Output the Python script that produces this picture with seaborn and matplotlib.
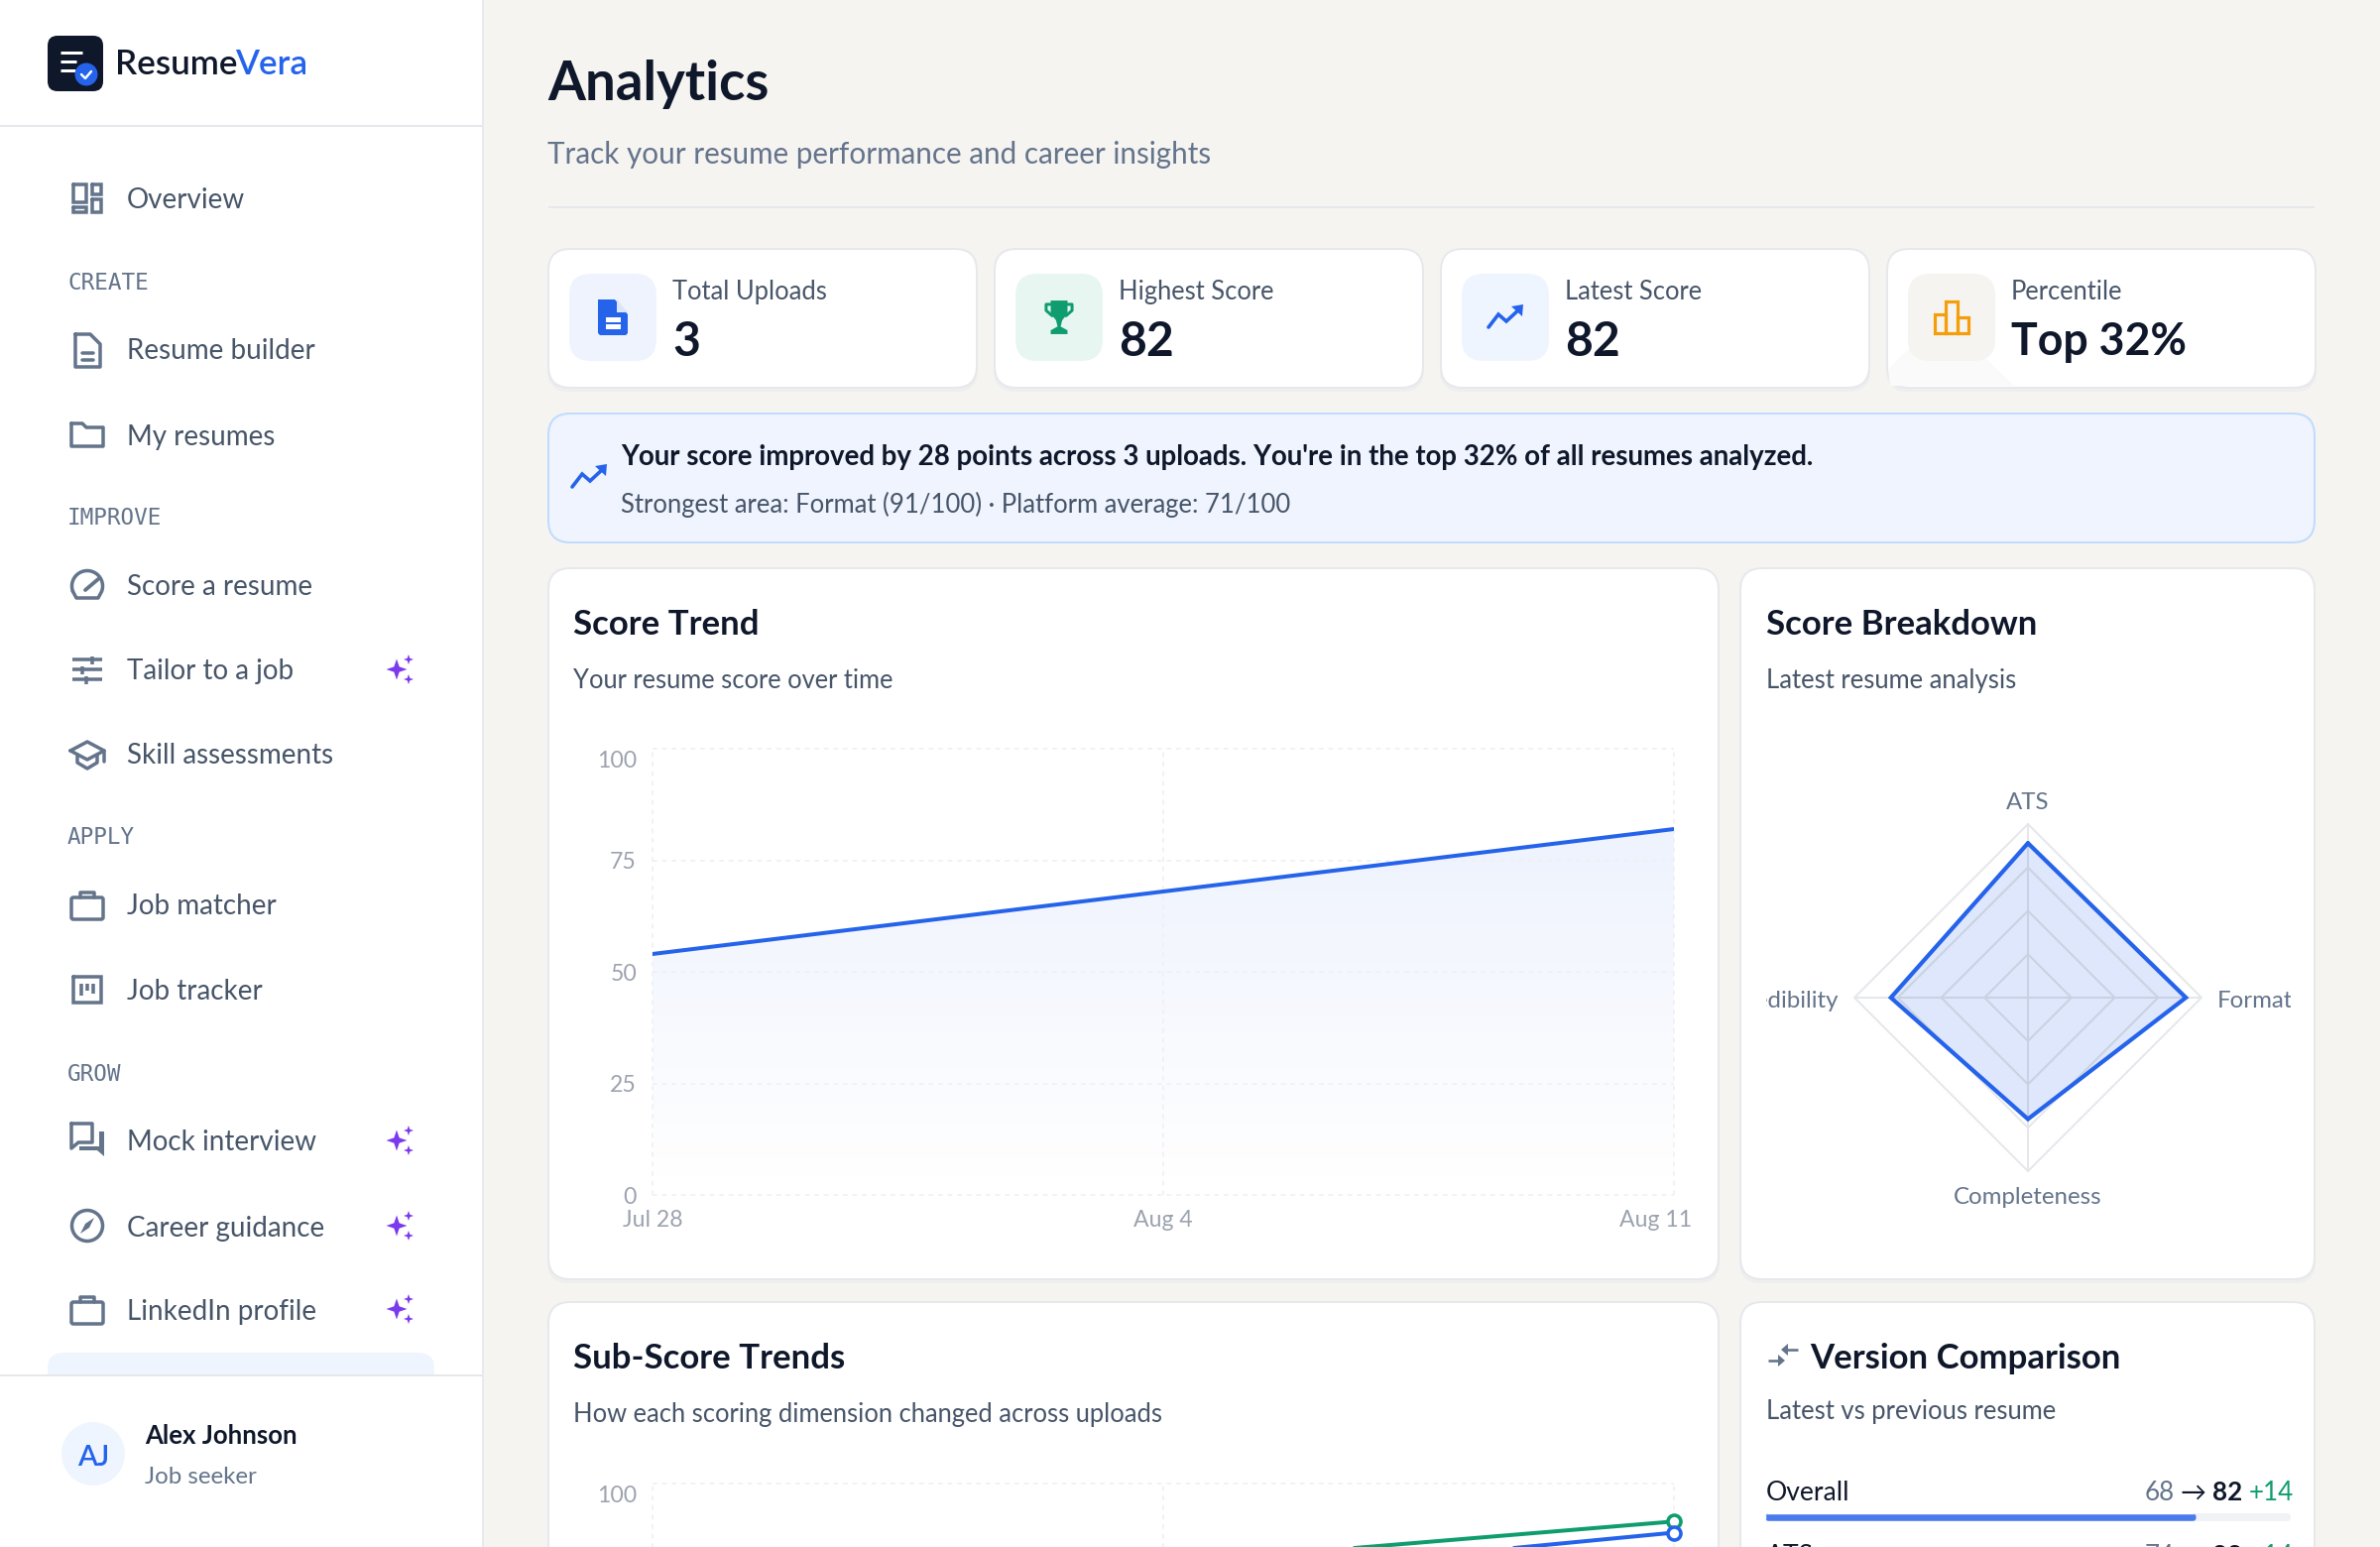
import numpy as np
import matplotlib
matplotlib.use("Agg")
import matplotlib.pyplot as plt
import seaborn as sns
from matplotlib.patches import FancyBboxPatch, Polygon, Circle, Rectangle
from matplotlib.transforms import ScaledTranslation

# data
trend_dates = ["Jul 28", "Aug 4", "Aug 11"]
trend_scores = [54, 68, 82]
trend_ticks = [0, 25, 50, 75, 100]

radar_labels = ["ATS", "Format", "Completeness", "Credibility"]
radar_values = [89, 91, 70, 79]
radar_rings = [25, 50, 75, 100]

sub_format = [64, 82, 91.5]
sub_ats = [58, 78, 89]

stat_labels = ["Total Uploads", "Highest Score", "Latest Score", "Percentile"]
stat_values = ["3", "82", "82", "Top 32%"]

overall_prev = 68
overall_new = 82
ats_prev = 74
ats_new = 88

nav_items = [("Overview", 200), ("Resume builder", 352), ("My resumes", 438), ("Score a resume", 590),
             ("Tailor to a job", 675), ("Skill assessments", 760), ("Job matcher", 912), ("Job tracker", 998),
             ("Mock interview", 1150), ("Career guidance", 1236), ("LinkedIn profile", 1320)]
nav_sections = [("CREATE", 283), ("IMPROVE", 520), ("APPLY", 842), ("GROW", 1081)]
sparkle_rows = [675, 1150, 1236, 1320]

INK = "#0f172a"
BODY = "#475569"
ICON = "#64748b"
BLUE = "#2563eb"
GREEN = "#0f9d6f"
LINE = "#e5e7eb"
GRID = "#eff0f3"
TICK = "#9ca3af"

sns.set_theme(style="white")
plt.rcParams["font.family"] = ["Lato", "DejaVu Sans"]
plt.rcParams["axes.unicode_minus"] = False

W, H = 2400, 1560
fig = plt.figure(figsize=(W / 100, H / 100), dpi=100, facecolor="#f5f4f1")

# one axes in pixel coordinates for the page furniture
bg = fig.add_axes([0, 0, 1, 1], zorder=0)
bg.set_xlim(0, W)
bg.set_ylim(H, 0)
bg.axis("off")


def pt(n):
    return n * 0.72


def box(x0, y0, x1, y1, r, fc, ec="none", lw=0, z=2):
    p = FancyBboxPatch((x0, y0), x1 - x0, y1 - y0, boxstyle=f"round,pad=0,rounding_size={r}",
                       fc=fc, ec=ec, lw=pt(lw), zorder=z)
    bg.add_patch(p)
    return p


def ln(pts, color=ICON, lw=3.5, z=4, cap="round", join="round"):
    xs, ys = zip(*pts)
    bg.plot(xs, ys, color=color, lw=pt(lw), zorder=z, solid_capstyle=cap, solid_joinstyle=join)


def fill(pts, color=ICON, z=4):
    bg.add_patch(Polygon(pts, closed=True, fc=color, ec="none", zorder=z))


def txt(x, y, s, size, color=INK, weight="normal", ha="left", va="center_baseline", **kw):
    return bg.text(x, y, s, fontsize=pt(size), color=color, fontweight=weight, ha=ha, va=va, zorder=6, **kw)


def card(x0, y0, x1, y1, r=22):
    box(x0 - 1, y0 + 2, x1 + 1, y1 + 4, r, "#eeeeee", z=1)
    box(x0, y0, x1, y1, r, "white", ec="#e6e8ec", lw=2, z=2)


def shifted(pts, cx, cy, k=1):
    return [(cx + a * k, cy + b * k) for a, b in pts]


def sparkle(cx, cy):
    def star(x, y, r):
        a = np.arange(8) * np.pi / 4
        rr = np.where(np.arange(8) % 2 == 0, r, r * 0.36)
        return list(zip(x + rr * np.sin(a), y + rr * np.cos(a)))
    fill(star(cx - 3, cy, 10.5), "#7c3aed")
    fill(star(cx + 9, cy - 10, 5), "#7c3aed")
    fill(star(cx + 9, cy + 10, 5), "#7c3aed")


def trend_icon(cx, cy, color=BLUE, lw=3.6):
    ln(shifted([(-17, 10), (-7, -3), (1, 4), (15, -9)], cx, cy), color, lw, join="miter")
    fill(shifted([(6, -11), (18, -13), (17, -1)], cx, cy), color)


# sidebar
bg.add_patch(Rectangle((0, 0), 486, H, fc="white", ec="none", zorder=1))
bg.add_patch(Rectangle((486, 0), 2, H, fc="#e8e9ed", ec="none", zorder=1))
bg.add_patch(Rectangle((0, 126), 486, 2, fc=LINE, ec="none", zorder=3))
box(48, 1364, 438, 1400, 16, "#eff5fe", z=2)
bg.add_patch(Rectangle((0, 1387), 486, H - 1387, fc="white", ec="none", zorder=3))
bg.add_patch(Rectangle((0, 1386), 486, 2, fc=LINE, ec="none", zorder=3))

# logo
box(48, 36, 104, 92, 10, "#0f172a", z=3)
ln([(61, 53), (83, 53)], "white", 3, cap="butt")
ln([(61, 62), (77, 62)], "white", 3, cap="butt")
ln([(61, 71), (76, 71)], "white", 3, cap="butt")
bg.add_patch(Circle((87, 75), 11.5, fc=BLUE, ec="none", zorder=5))
ln([(82, 75), (86, 79), (92, 72)], "white", 2.4, z=6)
t1 = txt(116, 62, "Resume", 35, weight="semibold")
fig.canvas.draw()
ext = t1.get_window_extent()
txt(ext.x1 - 2, 62, "Vera", 35, color=BLUE, weight="semibold")

for name, y in nav_items:
    txt(128, y, name, 27.7, color=BODY)
for name, y in nav_sections:
    txt(68, y, name, 22.6, color=ICON, family="DejaVu Sans Mono")
for y in sparkle_rows:
    sparkle(403, y)


# nav icons, drawn around the row centre
def rect_icon(cx, cy, x0, y0, x1, y1, lw=3.5):
    ln(shifted([(x0, y0), (x1, y0), (x1, y1), (x0, y1), (x0, y0)], cx, cy), ICON, lw, join="miter")


def briefcase(cx, cy):
    box(cx - 16, cy - 9, cx + 16, cy + 13, 2, "none", ec=ICON, lw=3.5, z=4)
    ln(shifted([(-7, -9), (-7, -14), (7, -14), (7, -9)], cx, cy))


cx = 88
rect_icon(cx, 200, -14, -14, -1, 4)
rect_icon(cx, 200, 5, -14, 14, -4)
rect_icon(cx, 200, -14, 9, -1, 14)
rect_icon(cx, 200, 5, 1, 14, 14)

ln(shifted([(-12, -16), (3, -16), (13, -6), (13, 17), (-12, 17), (-12, -16)], cx, 353))
ln(shifted([(-5, 3), (6, 3)], cx, 353))
ln(shifted([(-5, 10), (6, 10)], cx, 353))

ln(shifted([(-16, -11), (-5, -11), (-1, -7), (16, -7), (16, 12), (-16, 12), (-16, -11)], cx, 438))

th = np.radians(np.linspace(200, -20, 40))
ln(list(zip(cx + 15.5 * np.cos(th), 591 - 15.5 * np.sin(th))) + [(cx + 11, 603), (cx - 11, 603), (cx + 15.5 * np.cos(th[0]), 591 - 15.5 * np.sin(th[0]))])
ln([(cx - 2, 595), (cx + 11, 584)], lw=3.8)

for dy in [-10, 0, 10]:
    ln([(cx - 15, 675 + dy), (cx + 15, 675 + dy)], cap="butt")
ln([(cx + 5, 662), (cx + 5, 670)], cap="butt")
ln([(cx - 5, 672), (cx - 5, 680)], cap="butt")
ln([(cx - 1, 682), (cx - 1, 690)], cap="butt")

ln(shifted([(-17, -3), (0, -12), (17, -3), (0, 6), (-17, -3)], cx, 760))
ln(shifted([(-10, 1), (-10, 9), (0, 15), (10, 9), (10, 1)], cx, 760))
ln(shifted([(17, -3), (17, 8)], cx, 760))

briefcase(cx, 914)
rect_icon(cx, 998, -14, -13, 14, 13)
ln(shifted([(-6, -6), (-6, 6)], cx, 998), cap="butt")
ln(shifted([(0, -6), (0, 1)], cx, 998), cap="butt")
ln(shifted([(6, -6), (6, 4)], cx, 998), cap="butt")

ln(shifted([(-16, -16), (5, -16), (5, 3), (-9, 3), (-16, 9), (-16, -16)], cx, 1149))
fill(shifted([(-8, 7), (12, 7), (12, -8), (17, -8), (17, 17), (10, 11), (-8, 11)], cx, 1149))

bg.add_patch(Circle((cx, 1236), 15.5, fc="none", ec=ICON, lw=pt(3.5), zorder=4))
fill(shifted([(7, -8), (2, 2), (-7, 8), (-2, -2)], cx, 1236))

briefcase(cx, 1322)

# profile
bg.add_patch(Circle((94, 1466), 32, fc="#eff5fe", ec="none", zorder=5))
txt(94, 1467, "AJ", 29, color=BLUE, weight="semibold", ha="center")
txt(146, 1446, "Alex Johnson", 25.7, weight="bold")
txt(146, 1487, "Job seeker", 24, color=ICON)

# page header
txt(552, 81, "Analytics", 54.6, weight="bold")
txt(552, 153, "Track your resume performance and career insights", 29.6, color=ICON)
bg.add_patch(Rectangle((553, 208), 2334 - 553, 2, fc=LINE, ec="none", zorder=2))

# stat cards
stat_x = [553, 1003, 1453, 1903]
tile_fc = ["#eff3fe", "#e8f6f1", "#eff5fe", "#f5f4f1"]
value_size = [48, 48, 48, 44.6]
for i, x0 in enumerate(stat_x):
    card(x0, 251, x0 + 432, 391)
    box(x0 + 21, 276, x0 + 109, 364, 22, tile_fc[i], z=3)
    txt(x0 + 125, 292, stat_labels[i], 25.5, color=BODY)
    txt(x0 + 125, 341, stat_values[i], value_size[i], weight="bold")
fill([(1904, 372), (1927, 350), (2003, 362), (2031, 389), (1906, 389)], "#fafafa", z=2.5)

# stat icons
c0 = stat_x[0] + 65
fill(shifted([(-15, -18), (2, -18), (15, -3), (15, 16), (13, 18), (-13, 18), (-15, 16)], c0, 320), BLUE)
fill(shifted([(4, -18), (15, -5), (4, -5)], c0, 320), "#dbe6fc", z=5)
bg.add_patch(Rectangle((c0 - 7, 320), 15, 4.5, fc="white", ec="none", zorder=5))
bg.add_patch(Rectangle((c0 - 7, 327), 15, 4.5, fc="white", ec="none", zorder=5))

c1 = stat_x[1] + 65
fill(shifted([(-11, -22), (11, -22), (11, -5), (4, 4), (2, 12), (11, 17), (11, 22), (-11, 22), (-11, 17), (-2, 12), (-4, 4), (-11, -5)], c1, 320, 0.77), GREEN)
ln(shifted([(-11, -17), (-17, -17), (-17, -9), (-9, -2)], c1, 320, 0.77), GREEN, 3)
ln(shifted([(11, -17), (17, -17), (17, -9), (9, -2)], c1, 320, 0.77), GREEN, 3)

trend_icon(stat_x[2] + 65, 320)

c3 = stat_x[3] + 65
for xa, xb, ya in [(-17, -6, 317), (-6, 6, 304), (6, 17, 320)]:
    bg.add_patch(Rectangle((c3 + xa, ya), xb - xa, 336 - ya, fc="none", ec="#f59e0b", lw=pt(3.2), zorder=4))

# banner
box(553, 417, 2334, 547, 22, "#eff4fe", ec="#bfdbfe", lw=2, z=2)
trend_icon(594, 481)
txt(626, 459, "Your score improved by 28 points across 3 uploads. You're in the top 32% of all resumes analyzed.", 27.6, weight="bold")
txt(626, 506, "Strongest area: Format (91/100) \u00b7 Platform average: 71/100", 25.6, color=BODY)

# chart cards
card(553, 573, 1733, 1290)
card(1755, 573, 2334, 1290)
card(553, 1313, 1733, 1640)
card(1755, 1313, 2334, 1640)

txt(578, 627, "Score Trend", 34.8, weight="bold")
txt(578, 684, "Your resume score over time", 25.5, color=BODY)
txt(1781, 627, "Score Breakdown", 34.8, weight="bold")
txt(1781, 684, "Latest resume analysis", 25.6, color=BODY)
txt(578, 1367, "Sub-Score Trends", 34.8, weight="bold")
txt(578, 1424, "How each scoring dimension changed across uploads", 25.5, color=BODY)
txt(1825, 1367, "Version Comparison", 34.8, weight="bold")
txt(1781, 1421, "Latest vs previous resume", 25.6, color=BODY)

# version comparison icon
ln([(1783, 1372), (1795, 1372)], ICON, 2.6, cap="butt")
fill([(1793, 1366), (1800, 1372), (1793, 1378)])
ln([(1801, 1361), (1813, 1361)], ICON, 2.6, cap="butt")
fill([(1803, 1355), (1796, 1361), (1803, 1367)])

# version comparison rows
txt(1781, 1503, "Overall", 26.5)
txt(2163, 1503, str(overall_prev), 26, color=ICON)
txt(2198, 1503, "\u2192", 26)
txt(2231, 1503, str(overall_new), 26, weight="bold")
txt(2268, 1503, f"+{overall_new - overall_prev}", 26, color=GREEN)
txt(1781, 1567, "ATS", 26.5)
txt(2163, 1567, str(ats_prev), 26, color=ICON)
txt(2198, 1567, "\u2192", 26)
txt(2231, 1567, str(ats_new), 26, weight="bold")
txt(2268, 1567, f"+{ats_new - ats_prev}", 26, color=GREEN)

box(1780, 1526, 2310, 1534, 4, "#f0f2f5", z=3)
bar_ax = fig.add_axes([1780 / W, 1 - 1534 / H, 530 / W, 8 / H], zorder=3)
sns.barplot(x=[overall_new], y=["Overall"], color="#4a7aec", saturation=1, width=1, ax=bar_ax)
bar_ax.set_xlim(0, 100)
bar_ax.axis("off")
bar_ax.patch.set_visible(False)
end_x = 1780 + 530 * overall_new / 100
clip = FancyBboxPatch((1780, 1526), end_x - 1780, 8, boxstyle="round,pad=0,rounding_size=4", transform=bg.transData)
bar_ax.patches[0].set_clip_path(clip)


# line charts share one look
def chart_axes(top):
    ax = fig.add_axes([658 / W, 1 - (top + 450) / H, 1030 / W, 450 / H], zorder=2)
    ax.patch.set_visible(False)
    return ax


def finish_chart(ax):
    ax.set_xlim(0, 2)
    ax.set_ylim(0, 100)
    ax.set_xlabel("")
    ax.set_ylabel("")
    ax.set_yticks(trend_ticks)
    ax.set_yticklabels([str(v) for v in trend_ticks], fontsize=pt(23), color=TICK)
    ax.set_xticks(range(len(trend_dates)))
    ax.set_xticklabels(trend_dates, fontsize=pt(23), color=TICK)
    ax.tick_params(axis="y", length=0, pad=pt(16))
    ax.tick_params(axis="x", length=0, pad=pt(15))
    top_label = ax.get_yticklabels()[-1]
    top_label.set_va("top")
    top_label.set_transform(top_label.get_transform() + ScaledTranslation(0, -0.02, fig.dpi_scale_trans))
    # the last date is pushed inwards so that it stays inside the card
    last = ax.get_xticklabels()[-1]
    last.set_transform(last.get_transform() + ScaledTranslation(-0.18, 0, fig.dpi_scale_trans))
    ax.grid(True, color=GRID, lw=pt(1.6), linestyle=(0, (3, 3)))
    for g in ax.get_xgridlines() + ax.get_ygridlines():
        g.set_clip_on(False)
    ax.set_axisbelow(True)
    sns.despine(ax=ax, left=True, bottom=True)


ax1 = chart_axes(755)
sns.lineplot(x=trend_dates, y=trend_scores, color=BLUE, lw=pt(4), sort=False, errorbar=None, ax=ax1)
gradient = np.zeros((256, 2, 4))
gradient[..., :3] = matplotlib.colors.to_rgb(BLUE)
gradient[..., 3] = np.linspace(0.08, 0, 256)[:, None]
img = ax1.imshow(gradient, extent=(0, 2, 0, max(trend_scores)), origin="upper", aspect="auto", zorder=0.5)
area = Polygon(list(zip(range(3), trend_scores)) + [(2, 0), (0, 0)], closed=True, transform=ax1.transData)
img.set_clip_path(area)
finish_chart(ax1)

ax2 = chart_axes(1496)
for values, color in [(sub_format, GREEN), (sub_ats, BLUE)]:
    sns.lineplot(x=trend_dates, y=values, color=color, lw=pt(4), sort=False, errorbar=None, marker="o",
                 markersize=pt(13), markerfacecolor="white", markeredgecolor=color, markeredgewidth=pt(3.6),
                 clip_on=False, ax=ax2)
finish_chart(ax2)

# radar, centre (2045, 1006), radius 175
rad = fig.add_axes([1870 / W, 1 - 1181 / H, 350 / W, 350 / H], projection="polar", zorder=2)
rad.set_theta_zero_location("N")
rad.set_theta_direction(-1)
angles = np.linspace(0, 2 * np.pi, len(radar_labels), endpoint=False)
closed_angles = np.append(angles, 2 * np.pi)
closed_values = radar_values + radar_values[:1]
rad.set_ylim(0, 100)
shape = Polygon(list(zip(closed_angles, closed_values)), closed=True, transform=rad.transData)
# rings are pale outside the score shape and greyer where they cross it
for ring in radar_rings:
    rad.plot(closed_angles, [ring] * len(closed_angles), color="#e5e7eb", lw=pt(2), clip_on=False, zorder=3)
    inner, = rad.plot(closed_angles, [ring] * len(closed_angles), color="#c8d2e2", lw=pt(2), zorder=3.1)
    inner.set_clip_path(shape)
for a in angles:
    rad.plot([a, a], [0, radar_rings[-1]], color="#e5e7eb", lw=pt(2), clip_on=False, zorder=3)
    inner, = rad.plot([a, a], [0, radar_rings[-1]], color="#c8d2e2", lw=pt(2), zorder=3.1)
    inner.set_clip_path(shape)
rad.fill(closed_angles, closed_values, color=BLUE, alpha=0.15, lw=0, zorder=2)
sns.lineplot(x=closed_angles, y=closed_values, color=BLUE, lw=pt(4.2), sort=False, estimator=None, errorbar=None,
             solid_joinstyle="miter", clip_on=False, zorder=4, ax=rad)
rad.set_ylim(0, 100)
rad.axis("off")

clip_rect = Rectangle((1781, 760), 2310 - 1781, 500, transform=bg.transData)
label_pos = [(2045, 807, "center"), (2236, 1007, "left"), (2045, 1205, "center"), (1854, 1007, "right")]
for name, (x, y, ha) in zip(radar_labels, label_pos):
    t = txt(x, y, name, 24, color=ICON, ha=ha)
    t.set_clip_on(True)
    t.set_clip_path(clip_rect)

fig.savefig("out.png", dpi=100, facecolor=fig.get_facecolor())
